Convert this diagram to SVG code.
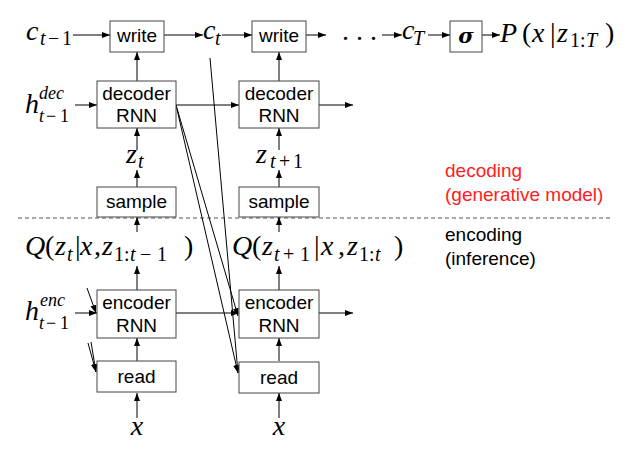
<svg xmlns="http://www.w3.org/2000/svg" width="640" height="470" viewBox="0 0 640 470">
<style>
.box{fill:#fff;stroke:#444;stroke-width:1}
.lbl{font-family:"Liberation Sans",Arial,sans-serif;font-size:19px;fill:#000;text-anchor:middle}
.note{font-family:"Liberation Sans",Arial,sans-serif;font-size:19px}
.m{font-family:"Liberation Serif","Times New Roman",serif;font-size:28px;font-style:italic;fill:#000}
.s{font-size:20px}
.h{font-size:18px}
.u{font-style:normal}
.conn line{stroke:#000;stroke-width:1;fill:none;marker-end:url(#ah)}
</style>
<defs>
<marker id="ah" viewBox="0 0 8 6" refX="8" refY="3" markerWidth="8" markerHeight="6" markerUnits="userSpaceOnUse" orient="auto">
<path d="M0,0 L8,3 L0,6 z" fill="#000"/>
</marker>
</defs>
<rect width="640" height="470" fill="#fff"/>

<line x1="18" y1="218" x2="610" y2="218" stroke="#555" stroke-width="1" stroke-dasharray="4,3"/>

<g id="connectors" class="conn">
<line x1="73" y1="35" x2="110" y2="35"/>
<line x1="164" y1="35" x2="203" y2="35"/>
<line x1="222" y1="35" x2="252" y2="35"/>
<line x1="306" y1="35" x2="326" y2="35"/>
<line x1="382" y1="35" x2="402" y2="35"/>
<line x1="428" y1="35" x2="450" y2="35"/>
<line x1="482" y1="35" x2="500" y2="35"/>
<line x1="75" y1="105" x2="97" y2="105"/>
<line x1="176" y1="105" x2="239" y2="105"/>
<line x1="319" y1="105" x2="353" y2="105"/>
<line x1="75" y1="313" x2="97" y2="313"/>
<line x1="176" y1="313" x2="239" y2="313"/>
<line x1="319" y1="313" x2="353" y2="313"/>
<line x1="137" y1="81" x2="137" y2="52"/>
<line x1="279" y1="81" x2="279" y2="52"/>
<line x1="137" y1="150" x2="137" y2="128"/>
<line x1="279" y1="150" x2="279" y2="128"/>
<line x1="137" y1="187" x2="137" y2="170"/>
<line x1="279" y1="187" x2="279" y2="170"/>
<line x1="137" y1="232" x2="137" y2="217"/>
<line x1="279" y1="232" x2="279" y2="217"/>
<line x1="137" y1="290" x2="137" y2="266"/>
<line x1="279" y1="290" x2="279" y2="266"/>
<line x1="137" y1="361" x2="137" y2="338"/>
<line x1="279" y1="361" x2="279" y2="338"/>
<line x1="137" y1="418" x2="137" y2="393"/>
<line x1="279" y1="418" x2="279" y2="393"/>
<line x1="176" y1="105" x2="238" y2="316"/>
<line x1="176" y1="105" x2="238" y2="373"/>
<line x1="210" y1="58" x2="238" y2="373"/>
<line x1="87" y1="288" x2="96" y2="313"/>
<line x1="88" y1="343" x2="96" y2="372"/>
<line x1="91" y1="342" x2="96" y2="372"/>
</g>

<g id="write1"><rect class="box" x="110" y="21" width="54" height="31"/><text class="lbl" x="137" y="42">write</text></g>
<g id="write2"><rect class="box" x="252" y="21" width="54" height="31"/><text class="lbl" x="279" y="42">write</text></g>
<g id="sigma"><rect class="box" x="450" y="21" width="32" height="31"/><text x="466" y="43" text-anchor="middle" font-family="'DejaVu Serif','Liberation Serif',serif" font-weight="bold" font-style="italic" font-size="21">σ</text></g>
<g id="decoder1"><rect class="box" x="97" y="81" width="79" height="47"/><text class="lbl" x="136.5" y="100">decoder</text><text class="lbl" x="136.5" y="122">RNN</text></g>
<g id="decoder2"><rect class="box" x="239" y="81" width="80" height="47"/><text class="lbl" x="279" y="100">decoder</text><text class="lbl" x="279" y="122">RNN</text></g>
<g id="sample1"><rect class="box" x="97" y="187" width="79" height="30"/><text class="lbl" x="136.5" y="208">sample</text></g>
<g id="sample2"><rect class="box" x="239" y="187" width="80" height="30"/><text class="lbl" x="279" y="208">sample</text></g>
<g id="encoder1"><rect class="box" x="97" y="290" width="79" height="48"/><text class="lbl" x="136.5" y="309">encoder</text><text class="lbl" x="136.5" y="332">RNN</text></g>
<g id="encoder2"><rect class="box" x="239" y="290" width="80" height="48"/><text class="lbl" x="279" y="309">encoder</text><text class="lbl" x="279" y="332">RNN</text></g>
<g id="read1"><rect class="box" x="97" y="361" width="79" height="31"/><text class="lbl" x="136.5" y="383">read</text></g>
<g id="read2"><rect class="box" x="239" y="362" width="80" height="31"/><text class="lbl" x="279" y="384">read</text></g>

<g id="c_tm1"><text class="m"><tspan x="26" y="40">c</tspan><tspan class="s" x="40" y="45">t</tspan><tspan class="s u" x="48" y="45">−</tspan><tspan class="s u" x="62" y="45">1</tspan></text></g>
<g id="c_t"><text class="m"><tspan x="203" y="39">c</tspan><tspan class="s" x="215" y="45">t</tspan></text></g>
<g id="dots"><text class="m u" x="342" y="40">. . .</text></g>
<g id="c_T"><text class="m"><tspan x="402" y="39">c</tspan><tspan class="s" x="413" y="45">T</tspan></text></g>
<g id="P"><text class="m"><tspan x="500" y="42">P</tspan><tspan class="u" x="522" y="42">(</tspan><tspan x="532" y="42">x</tspan><tspan class="u" x="550" y="42">|</tspan><tspan x="557" y="42">z</tspan><tspan class="s u" x="570" y="47">1</tspan><tspan class="s u" x="580" y="47">:</tspan><tspan class="s" x="586" y="47">T</tspan><tspan class="u" x="605" y="42">)</tspan></text></g>

<g id="h_dec"><text class="m"><tspan x="25" y="113">h</tspan><tspan class="h" x="39" y="99">dec</tspan><tspan class="h" x="39" y="122">t</tspan><tspan class="h u" x="46" y="122">−</tspan><tspan class="h u" x="60" y="122">1</tspan></text></g>
<g id="h_enc"><text class="m"><tspan x="25" y="320">h</tspan><tspan class="h" x="40" y="306">enc</tspan><tspan class="h" x="39" y="329">t</tspan><tspan class="h u" x="46" y="329">−</tspan><tspan class="h u" x="60" y="329">1</tspan></text></g>

<g id="z_t"><text class="m"><tspan x="126" y="163">z</tspan><tspan class="s" x="138" y="168">t</tspan></text></g>
<g id="z_t1"><text class="m"><tspan x="256" y="163">z</tspan><tspan class="s" x="270" y="168">t</tspan><tspan class="s u" x="279" y="168">+</tspan><tspan class="s u" x="293" y="168">1</tspan></text></g>

<g id="Q_t"><text class="m"><tspan x="25" y="255">Q</tspan><tspan class="u" x="45" y="255">(</tspan><tspan x="55" y="255">z</tspan><tspan class="s" x="67" y="261">t</tspan><tspan class="u" x="75" y="255">|</tspan><tspan x="80" y="255">x</tspan><tspan class="u" x="94" y="255">,</tspan><tspan x="102" y="255">z</tspan><tspan class="s u" x="114" y="261">1</tspan><tspan class="s u" x="124" y="261">:</tspan><tspan class="s" x="130" y="261">t</tspan><tspan class="s u" x="140" y="261">−</tspan><tspan class="s u" x="157" y="261">1</tspan><tspan class="u" x="184" y="255">)</tspan></text></g>
<g id="Q_t1"><text class="m"><tspan x="232" y="255">Q</tspan><tspan class="u" x="252" y="255">(</tspan><tspan x="262" y="255">z</tspan><tspan class="s" x="274" y="261">t</tspan><tspan class="s u" x="283" y="261">+</tspan><tspan class="s u" x="300" y="261">1</tspan><tspan class="u" x="314" y="255">|</tspan><tspan x="321" y="255">x</tspan><tspan class="u" x="338" y="255">,</tspan><tspan x="347" y="255">z</tspan><tspan class="s u" x="359" y="261">1</tspan><tspan class="s u" x="369" y="261">:</tspan><tspan class="s" x="375" y="261">t</tspan><tspan class="u" x="394" y="255">)</tspan></text></g>

<g id="x1"><text class="m" x="137" y="435" text-anchor="middle">x</text></g>
<g id="x2"><text class="m" x="279" y="435" text-anchor="middle">x</text></g>

<g id="decoding"><text class="note" fill="#ff2020"><tspan x="445" y="177">decoding</tspan><tspan x="445" y="201">(generative model)</tspan></text></g>
<g id="encoding"><text class="note" fill="#000"><tspan x="445" y="241">encoding</tspan><tspan x="445" y="265">(inference)</tspan></text></g>
</svg>
